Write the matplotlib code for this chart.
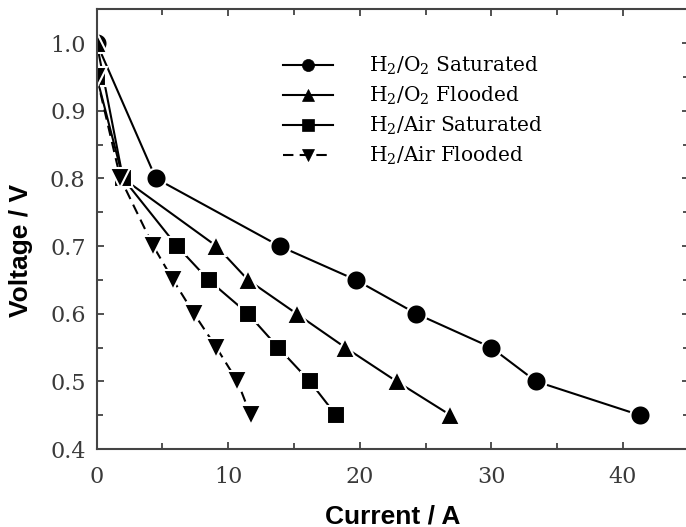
import matplotlib
matplotlib.use("Agg")
from matplotlib import pyplot as plt
from matplotlib.ticker import MultipleLocator, FormatStrFormatter

plt.rcParams['mathtext.fontset'] = 'custom'
plt.rcParams['mathtext.rm'] = 'DejaVu Serif'
plt.rcParams['mathtext.it'] = 'DejaVu Serif:italic'

# data
voltage = [1.0, 0.8, 0.7, 0.65, 0.6, 0.55, 0.5, 0.45]
i_o2_sat = [0.0, 4.5, 13.9, 19.7, 24.3, 30.0, 33.4, 41.3]
i_o2_flood = [0.0, 2.0, 9.1, 11.5, 15.2, 18.9, 22.8, 26.9]
v_air = [0.95, 0.8, 0.7, 0.65, 0.6, 0.55, 0.5, 0.45]
i_air_sat = [0.0, 2.0, 6.1, 8.5, 11.5, 13.8, 16.2, 18.2]
i_air_flood = [0.0, 1.8, 4.3, 5.8, 7.4, 9.1, 10.7, 11.7]

labels = [r'H$_2$/O$_2$ Saturated', r'H$_2$/O$_2$ Flooded',
          r'H$_2$/Air Saturated', r'H$_2$/Air Flooded']

fig = plt.figure(figsize=(6.86, 5.27), dpi=100)
ax = fig.add_axes([0.141, 0.148, 0.8627, 0.8343])

# white marker edge gives the small gap between line and marker
style = dict(color='k', lw=1.5, mec='white', mew=1.5)
ax.plot(i_o2_sat, voltage, '-o', ms=14.5, label=labels[0], **style)
ax.plot(i_o2_flood, voltage, '-^', ms=15, label=labels[1], **style)
ax.plot(i_air_sat, v_air, '-s', ms=13.5, label=labels[2], **style)
ax.plot(i_air_flood, v_air, '--v', ms=14, dashes=(5, 3), label=labels[3], **style)

ax.set_xlim(0, 45)
ax.set_ylim(0.4, 1.05)
ax.xaxis.set_major_locator(MultipleLocator(10))
ax.xaxis.set_minor_locator(MultipleLocator(5))
ax.yaxis.set_major_locator(MultipleLocator(0.1))
ax.yaxis.set_minor_locator(MultipleLocator(0.05))
ax.yaxis.set_major_formatter(FormatStrFormatter('%.1f'))
ax.tick_params(which='both', direction='in', top=True, right=True, width=1.2,
               color='#333333', labelcolor='#3a3a3a')
ax.tick_params(which='major', length=5, labelsize=16)
ax.tick_params(which='minor', length=4)
ax.tick_params(axis='x', pad=12)
ax.tick_params(axis='y', pad=8)
for lab in ax.get_xticklabels() + ax.get_yticklabels():
    lab.set_fontfamily('DejaVu Serif')
for s in ax.spines.values():
    s.set_linewidth(1.5)
    s.set_color('#444444')

ax.set_xlabel('Current / A', fontfamily='Liberation Sans', fontweight='bold', fontsize=19, labelpad=12)
ax.set_ylabel('Voltage / V', fontfamily='Liberation Sans', fontweight='bold', fontsize=19)
ax.yaxis.set_label_coords(-0.108, 0.4526)

leg = ax.legend(loc='upper left', bbox_to_anchor=(0.315, 0.896), frameon=False,
                borderpad=0, borderaxespad=0,
                prop={'family': 'DejaVu Serif', 'size': 14.5}, markerscale=0.6,
                handlelength=2.5, handletextpad=1.75, labelspacing=0.38)
for h in leg.legend_handles:
    h.set_markeredgewidth(0.5)
    h.set_markeredgecolor('k')

fig.savefig('out.png', dpi=100)
